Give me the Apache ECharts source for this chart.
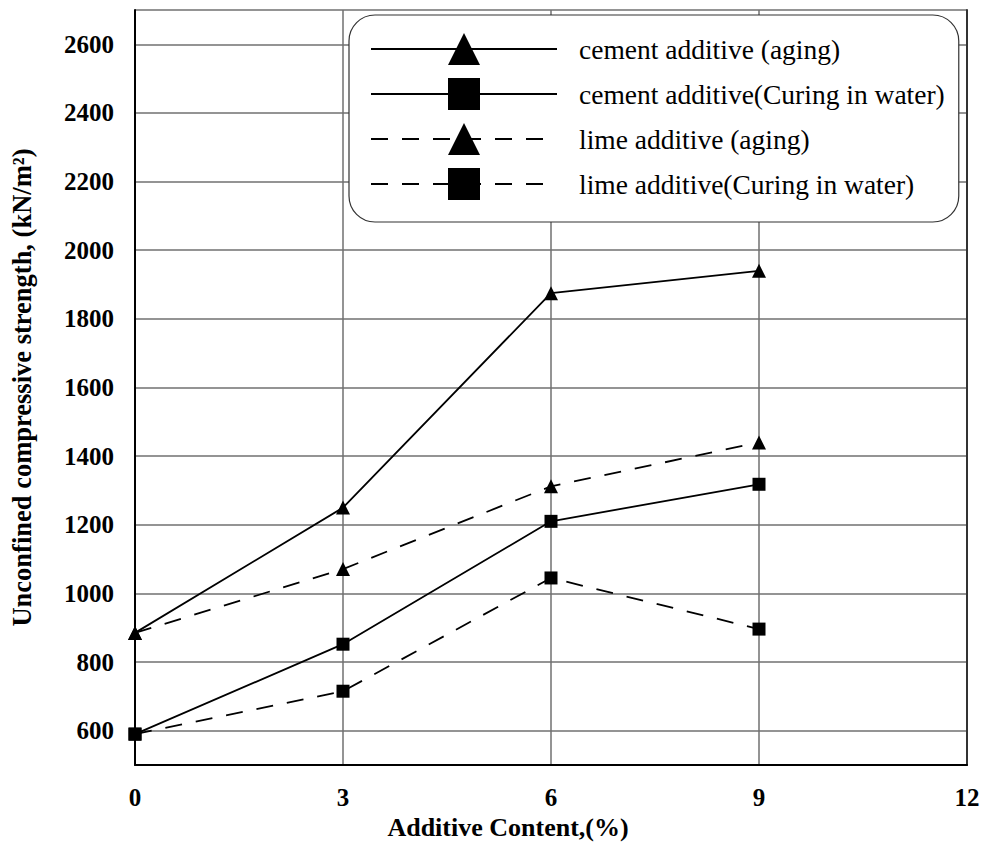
<!DOCTYPE html>
<html>
<head>
<meta charset="utf-8">
<script src="https://cdn.jsdelivr.net/npm/echarts@6/dist/echarts.min.js"></script>
<style>
html,body{margin:0;padding:0;background:#fff;}
#chart{width:984px;height:847px;}
</style>
</head>
<body>
<div id="chart"></div>
<script>
const additive = [0, 3, 6, 9];
const xTicks = [0, 3, 6, 9, 12];
const yTicks = [600, 800, 1000, 1200, 1400, 1600, 1800, 2000, 2200, 2400, 2600];
const cementAging = [885, 1250, 1875, 1940];
const cementWater = [590, 852, 1210, 1318];
const limeAging = [885, 1071, 1312, 1440];
const limeWater = [590, 715, 1045, 896];
const seriesNames = [
  'cement additive (aging)',
  'cement additive(Curing in water)',
  'lime additive (aging)',
  'lime additive(Curing in water)'
];

const FONT = "'Liberation Serif', 'Times New Roman', serif";
const pair = arr => additive.map((x, i) => [x, arr[i]]);

function mk(name, values, symbol, dashed) {
  return {
    name: name,
    type: 'line',
    data: pair(values),
    symbol: symbol,
    symbolSize: symbol === 'triangle' ? 14 : 13,
    lineStyle: { color: '#000', width: 1.8, type: dashed ? [17, 14] : 'solid' },
    itemStyle: { color: '#000' },
    animation: false,
    z: 3
  };
}

const chart = echarts.init(document.getElementById('chart'), null, { renderer: 'svg' });
chart.setOption({
  backgroundColor: '#fff',
  animation: false,
  grid: { left: 135, right: 17, top: 10, bottom: 82, containLabel: false },
  xAxis: {
    type: 'value', min: 0, max: 12, interval: 3,
    name: 'Additive Content,(%)', nameLocation: 'middle', nameGap: 36,
    nameTextStyle: { fontFamily: FONT, fontWeight: 'bold', fontSize: 26, color: '#000', padding: [0, 86, 0, 0] },
    axisLine: { show: true, lineStyle: { color: '#000', width: 2 } },
    axisTick: { show: false },
    axisLabel: {
      fontFamily: FONT, fontWeight: 'bold', fontSize: 25, color: '#000', margin: 20,
      formatter: v => xTicks.indexOf(v) >= 0 ? String(v) : ''
    },
    splitLine: { show: true, lineStyle: { color: '#707070', width: 1.5 } }
  },
  yAxis: [{
    type: 'value', min: 500, max: 2700, minInterval: 200, maxInterval: 200, splitNumber: 11,
    name: 'Unconfined compressive strength, (kN/m\u00B2)', nameLocation: 'middle', nameGap: 100,
    nameTextStyle: { fontFamily: FONT, fontWeight: 'bold', fontSize: 26.5, color: '#000' },
    axisLine: { show: true, lineStyle: { color: '#000', width: 2 } },
    axisTick: { show: false },
    axisLabel: {
      fontFamily: FONT, fontWeight: 'bold', fontSize: 25, color: '#000', margin: 21,
      showMinLabel: false, showMaxLabel: false,
      formatter: v => yTicks.indexOf(v) >= 0 ? String(v) : ''
    },
    splitLine: { show: true, lineStyle: { color: '#707070', width: 1.5 } }
  }, {
    type: 'value', position: 'right', min: 500, max: 2700, minInterval: 200, maxInterval: 200, splitNumber: 11,
    axisLine: { show: true, lineStyle: { color: '#333', width: 2 } },
    axisTick: { show: false },
    axisLabel: { show: false },
    splitLine: { show: false }
  }],
  legend: {
    orient: 'vertical', left: 349, top: 15,
    data: seriesNames,
    itemWidth: 186, itemHeight: 40, itemGap: 13,
    padding: [18, 14, 22, 21],
    backgroundColor: '#fff', borderColor: '#333', borderWidth: 1.2, borderRadius: 26,
    textStyle: { fontFamily: FONT, fontSize: 27.5, lineHeight: 30, color: '#000', padding: [0, 0, 0, 17] },
    selectedMode: false
  },
  series: [
    mk(seriesNames[0], cementAging, 'triangle', false),
    mk(seriesNames[1], cementWater, 'rect', false),
    mk(seriesNames[2], limeAging, 'triangle', true),
    mk(seriesNames[3], limeWater, 'rect', true)
  ]
});
</script>
</body>
</html>
